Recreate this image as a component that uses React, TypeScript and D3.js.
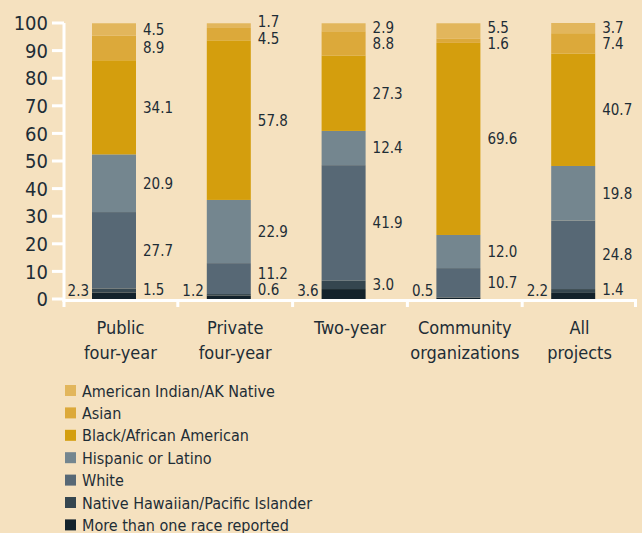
import React from "react";
import * as d3 from "d3";

const categories = [["Public", "four-year"], ["Private", "four-year"], ["Two-year"], ["Community", "organizations"], ["All", "projects"]];
const seriesNames = [
  "More than one race reported",
  "Native Hawaiian/Pacific Islander",
  "White",
  "Hispanic or Latino",
  "Black/African American",
  "Asian",
  "American Indian/AK Native",
];
const multi = [2.3, 1.2, 3.6, 0.5, 2.2];
const nhpi = [1.5, 0.6, 3.0, 0, 1.4];
const white = [27.7, 11.2, 41.9, 10.7, 24.8];
const hispanic = [20.9, 22.9, 12.4, 12.0, 19.8];
const black = [34.1, 57.8, 27.3, 69.6, 40.7];
const asian = [8.9, 4.5, 8.8, 1.6, 7.4];
const aian = [4.5, 1.7, 2.9, 5.5, 3.7];
const yTicks = [0, 10, 20, 30, 40, 50, 60, 70, 80, 90, 100];

const colors = ["#13222B", "#35464F", "#576875", "#74868F", "#D49E0D", "#DCA93A", "#E2B65C"];
const legendOrder = [6, 5, 4, 3, 2, 1, 0];

const W = 642, H = 533;
const BG = "#F5E1BF";
const TXT = "#1E2D36";
const FONT = "'DejaVu Sans Condensed', 'DejaVu Sans', sans-serif";

export default function App() {
  const series = [multi, nhpi, white, hispanic, black, asian, aian];
  const y = d3.scaleLinear().domain([0, 100]).range([299, 23]);
  const x = d3.scaleBand().domain(categories.map((_, i) => String(i))).range([63, 637]).paddingInner(0).paddingOuter(0);
  const barW = 44;
  const barOffset = 29;

  const stackData = categories.map((_, i) => {
    const row: any = {};
    series.forEach((s, k) => (row[k] = s[i]));
    return row;
  });
  const stack = d3.stack().keys(series.map((_, k) => String(k)))(stackData as any);

  const rightLabels = categories.map((_, i) => {
    const items: { y: number; text: string }[] = [];
    for (let k = 1; k < series.length; k++) {
      const v = series[k][i];
      if (!v) continue;
      const seg = stack[k][i];
      items.push({ y: y((seg[0] + seg[1]) / 2), text: v.toFixed(1) });
    }
    const minGap = 16.5;
    for (let iter = 0; iter < 50; iter++) {
      for (let j = 0; j < items.length - 1; j++) {
        const a = items[j], b = items[j + 1];
        const gap = a.y - b.y;
        if (gap < minGap) {
          const d = (minGap - gap) / 2;
          a.y += d;
          b.y -= d;
        }
      }
      if (items.length && items[0].y > 290) items[0].y = 290;
    }
    return items;
  });

  return (
    <svg width={W} height={H} style={{ position: "absolute", left: 0, top: 0, background: BG }} fontFamily={FONT}>
      <rect x={0} y={0} width={W} height={H} fill={BG} />
      {stack.map((layer, k) =>
        layer.map((seg, i) => (
          <rect
            key={k + "-" + i}
            x={(x(String(i)) as number) + barOffset}
            y={y(seg[1])}
            width={barW}
            height={Math.max(0, y(seg[0]) - y(seg[1]))}
            fill={colors[k]}
          />
        ))
      )}
      <line x1={64} x2={64} y1={23} y2={302} stroke="#fff" strokeWidth={3} />
      {yTicks.map((t) => (
        <g key={t}>
          <line x1={52} x2={64} y1={y(t)} y2={y(t)} stroke="#fff" strokeWidth={3} />
          <text x={48} y={y(t)} dy="0.36em" textAnchor="end" fontSize={20} fill={TXT}>
            {t}
          </text>
        </g>
      ))}
      <line x1={62.5} x2={637} y1={300.5} y2={300.5} stroke="#fff" strokeWidth={3} />
      {d3.range(categories.length + 1).map((i) => {
        const xx = i < categories.length ? (x(String(i)) as number) : 637;
        const px = i === 0 ? 64 : i === categories.length ? 635.5 : xx;
        return <line key={i} x1={px} x2={px} y1={299} y2={307} stroke="#fff" strokeWidth={3} />;
      })}
      {categories.map((_, i) => (
        <text key={"l" + i} x={(x(String(i)) as number) + barOffset - 3} y={290.5} dy="0.36em" textAnchor="end" fontSize={15} fill={TXT}>
          {multi[i].toFixed(1)}
        </text>
      ))}
      {rightLabels.map((items, i) =>
        items.map((it, j) => (
          <text key={"r" + i + "-" + j} x={(x(String(i)) as number) + barOffset + barW + 7} y={it.y} dy="0.36em" fontSize={15} fill={TXT}>
            {it.text}
          </text>
        ))
      )}
      {categories.map((lines, i) => (
        <text key={"c" + i} x={(x(String(i)) as number) + x.bandwidth() / 2} y={334} textAnchor="middle" fontSize={18} fill={TXT}>
          {lines.map((l, j) => (
            <tspan key={j} x={(x(String(i)) as number) + x.bandwidth() / 2} dy={j === 0 ? 0 : 25}>
              {l}
            </tspan>
          ))}
        </text>
      ))}
      {legendOrder.map((k, j) => (
        <g key={"lg" + k} transform={`translate(65, ${385 + j * 22.4})`}>
          <rect x={0} y={0} width={11} height={11} fill={colors[k]} />
          <text x={17} y={11.5} fontSize={16} fill={TXT}>
            {seriesNames[k]}
          </text>
        </g>
      ))}
    </svg>
  );
}
